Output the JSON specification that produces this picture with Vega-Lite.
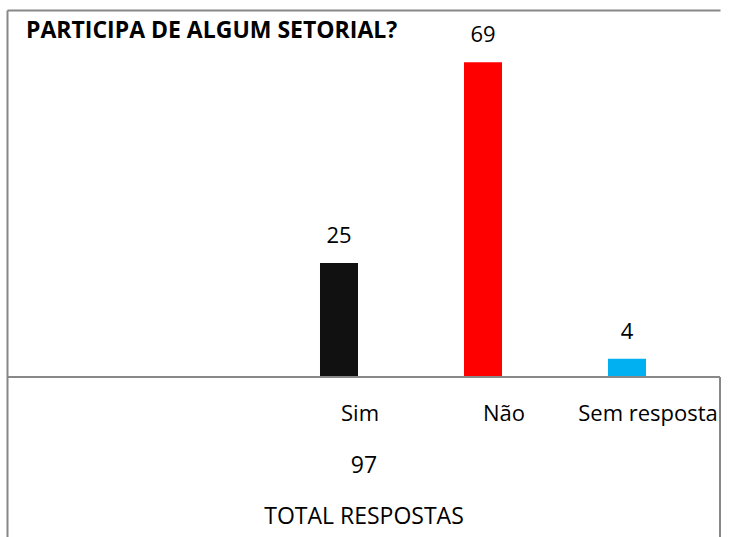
{
  "$schema": "https://vega.github.io/schema/vega-lite/v6.json",
  "width": 713,
  "height": 527,
  "autosize": "none",
  "padding": {"left": 7, "top": 10, "right": 22, "bottom": 0},
  "background": "white",
  "title": {
    "text": "PARTICIPA DE ALGUM SETORIAL?",
    "anchor": "start",
    "frame": "group",
    "orient": "top",
    "offset": 0,
    "baseline": "alphabetic",
    "dx": 19,
    "dy": 51,
    "font": "Open Sans",
    "fontSize": 23,
    "fontWeight": "bold",
    "color": "#000000"
  },
  "data": {
    "values": [
      {"resposta": "Sim", "total": 25},
      {"resposta": "Não", "total": 69},
      {"resposta": "Sem resposta", "total": 4}
    ]
  },
  "resolve": {"axis": {"x": "independent"}},
  "layer": [
    {
      "mark": {"type": "bar"},
      "encoding": {
        "x": {
          "field": "resposta",
          "type": "nominal",
          "sort": null,
          "scale": {"domain": [" ", "  ", "Sim", "Não", "Sem resposta"], "paddingInner": 0.736, "paddingOuter": 0.3437, "align": 0.2525},
          "axis": {
            "orient": "bottom",
            "domain": false,
            "ticks": false,
            "grid": false,
            "labelAngle": 0,
            "labelPadding": -117,
            "labelBaseline": "alphabetic",
            "labelOffset": 21,
            "labelFont": "Open Sans",
            "labelFontSize": 22,
            "labelColor": "#000000",
            "title": ["97", "TOTAL RESPOSTAS"],
            "titleFont": "Open Sans",
            "titleFontSize": 23,
            "titleFontWeight": "normal",
            "titleColor": "#000000",
            "titleLineHeight": 51,
            "titleBaseline": "alphabetic",
            "titleY": -65
          }
        },
        "y": {
          "field": "total",
          "type": "quantitative",
          "scale": {"domain": [-35.07, 80.44], "nice": false, "zero": false},
          "axis": {
            "orient": "left",
            "domain": true,
            "domainColor": "#888888",
            "domainWidth": 2,
            "ticks": false,
            "labels": false,
            "grid": false,
            "title": null
          }
        },
        "y2": {"datum": 0},
        "color": {
          "field": "resposta",
          "type": "nominal",
          "scale": {"domain": ["Sim", "Não", "Sem resposta"], "range": ["#111111", "#ff0000", "#00b0f0"]},
          "legend": null
        }
      }
    },
    {
      "mark": {"type": "text", "baseline": "alphabetic", "dy": -20, "font": "Open Sans", "fontSize": 22, "color": "#000000"},
      "encoding": {
        "x": {
          "field": "resposta",
          "type": "nominal",
          "sort": null,
          "axis": {
            "orient": "top",
            "domain": true,
            "domainColor": "#888888",
            "domainWidth": 2,
            "ticks": false,
            "labels": false,
            "grid": false,
            "title": null
          }
        },
        "y": {"field": "total", "type": "quantitative"},
        "text": {"field": "total", "type": "quantitative"}
      }
    },
    {
      "data": {"values": [{}]},
      "mark": {"type": "rule", "color": "#888888", "strokeWidth": 2},
      "encoding": {"y": {"datum": 0}}
    },
    {
      "data": {"values": [{}]},
      "mark": {"type": "rule", "color": "#888888", "strokeWidth": 2},
      "encoding": {"x": {"value": "width"}, "y": {"datum": 0}, "y2": {"datum": -35.07}}
    }
  ],
  "config": {"view": {"stroke": null}}
}
